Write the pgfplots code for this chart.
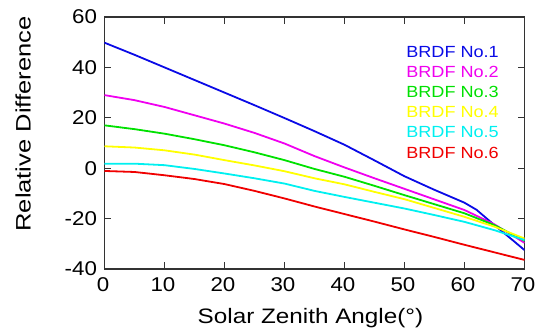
\documentclass[border=0pt]{standalone}
\usepackage{fontspec}
\setmainfont{Liberation Sans}[FakeStretch=1.12]
\newfontfamily\xlabfont{Liberation Sans}[FakeStretch=1.16]
\newfontfamily\ylabfont{Liberation Sans}[FakeStretch=1.22]
\usepackage{pgfplots}
\pgfplotsset{compat=1.18}
\definecolor{brdfA}{RGB}{10,10,230}
\definecolor{brdfB}{RGB}{240,0,240}
\definecolor{brdfC}{RGB}{0,225,0}
\definecolor{brdfD}{RGB}{255,255,0}
\definecolor{brdfE}{RGB}{0,240,240}
\definecolor{brdfF}{RGB}{240,0,0}
\begin{document}
\begin{tikzpicture}
\begin{axis}[
  scale only axis, width=420bp, height=252bp,
  xmin=0, xmax=70, ymin=-40, ymax=60,
  xtick={0,10,...,70}, ytick={-40,-20,...,60},
  tick align=inside, major tick length=7bp,
  axis line style={black!80, line width=1.1bp},
  tick style={black!80, line width=1.1bp},
  /pgf/number format/assume math mode=true,
  tick label style={font=\fontsize{20}{24}\selectfont},
  xticklabel style={yshift=-5bp, xshift=-1.5bp},
  yticklabel style={xshift=-4bp},
  xlabel={Solar Zenith Angle(°)},
  ylabel={Relative Difference},
  xlabel style={font=\xlabfont\fontsize{21}{24}\selectfont, yshift=-10bp, xshift=-4bp},
  ylabel style={font=\ylabfont\fontsize{21}{24}\selectfont, yshift=27bp, xshift=19bp},
  legend image code/.code={},
  legend cell align=left,
  legend style={at={(axis cs:49.7,49.7)}, anchor=north west, draw=none, fill=none,
    font=\fontsize{16.2}{18}\selectfont, row sep=4.7bp,
    nodes={inner sep=0.5bp, text height=11.5bp, text depth=3bp}},
  every axis plot/.append style={line width=1.8bp},
]
\addplot[brdfA] coordinates {(0,49.8) (5,45) (10,40) (15,35) (20,30) (25,25) (30,19.9) (35,14.7) (40,9.3) (45,3.1) (50,-3.2) (55,-8.6) (60,-13.7) (62,-16.5) (65,-22.6) (68,-28.5) (70,-32.5)};
\addlegendentry{\textcolor{brdfA}{BRDF No.1}}
\addplot[brdfB] coordinates {(0,29) (5,27) (10,24.3) (15,21) (20,17.7) (25,14) (30,9.8) (35,4.8) (40,0.3) (45,-4) (50,-8.2) (55,-12.4) (60,-16.6) (65,-22.3) (70,-29.6)};
\addlegendentry{\textcolor{brdfB}{BRDF No.2}}
\addplot[brdfC] coordinates {(0,17) (5,15.5) (10,13.7) (15,11.5) (20,9.1) (25,6.3) (30,3.2) (35,-0.3) (40,-3.4) (45,-7) (50,-10.7) (55,-14.3) (60,-17.9) (65,-22.6) (70,-28.8)};
\addlegendentry{\textcolor{brdfC}{BRDF No.3}}
\addplot[brdfD] coordinates {(0,8.7) (5,8.2) (10,7.1) (15,5.4) (20,3.2) (25,1.1) (30,-1.2) (35,-4) (40,-6.4) (45,-9.4) (50,-12.3) (55,-15.8) (60,-19.3) (65,-23.2) (70,-27.9)};
\addlegendentry{\textcolor{brdfD}{BRDF No.4}}
\addplot[brdfE] coordinates {(0,1.8) (5,1.8) (10,1.2) (15,-0.3) (20,-2.1) (25,-4) (30,-6.1) (35,-9) (40,-11.4) (45,-13.7) (50,-16) (55,-18.6) (60,-21.3) (65,-24.6) (70,-28.5)};
\addlegendentry{\textcolor{brdfE}{BRDF No.5}}
\addplot[brdfF] coordinates {(0,-1.1) (5,-1.5) (10,-2.8) (15,-4.3) (20,-6.3) (25,-9) (30,-12) (35,-15.2) (40,-18.2) (45,-21.2) (50,-24.3) (55,-27.3) (60,-30.4) (65,-33.4) (70,-36.4)};
\addlegendentry{\textcolor{brdfF}{BRDF No.6}}
\coordinate (sw) at (rel axis cs:0,0);
\coordinate (ne) at (rel axis cs:1,1);
\end{axis}
\pgfresetboundingbox
\path[use as bounding box] ([shift={(-104.5bp,-66bp)}]sw) rectangle ([shift={(25.5bp,17bp)}]ne);
\end{tikzpicture}
\end{document}
